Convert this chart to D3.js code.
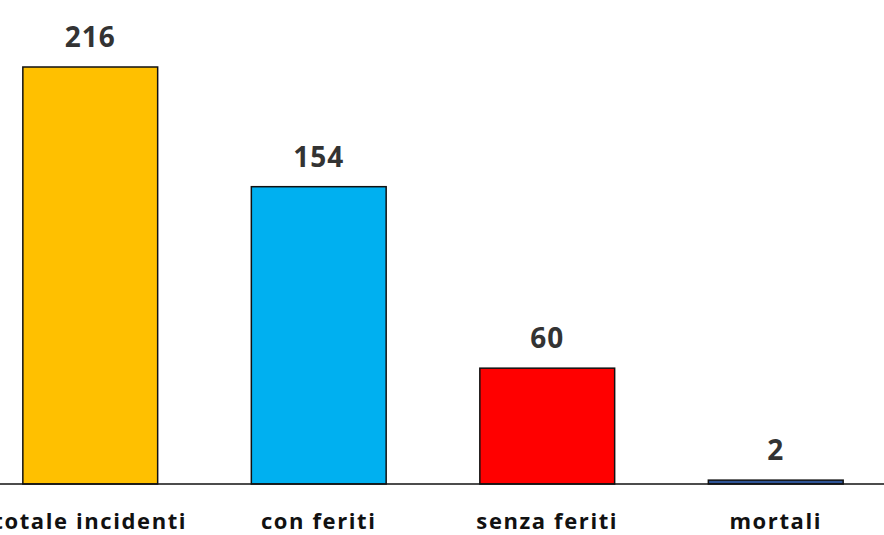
<!DOCTYPE html>
<html>
<head>
<meta charset="utf-8">
<script src="https://cdn.jsdelivr.net/npm/d3@7"></script>
<style>
  body { margin: 0; background: #fff; }
  svg { display: block; font-family: "Open Sans", Lato, sans-serif; }
</style>
</head>
<body>
<svg id="chart"></svg>
<script>
const categories = ['totale incidenti', 'con feriti', 'senza feriti', 'mortali'];
const values = [216, 154, 60, 2];
const colors = ['#FFC000', '#00B0F0', '#FF0000', '#2F5597'];

const width = 884;
const height = 535;
const baseline = 484;

const svg = d3.select('#chart')
  .attr('width', width)
  .attr('height', height);

// chart is cropped on the left in the original, so the band range starts off-screen
const x = d3.scaleBand()
  .domain(categories)
  .range([-24, 890])
  .paddingInner(0.41)
  .paddingOuter(0.205);

const y = d3.scaleLinear()
  .domain([0, 216])
  .range([baseline, 67]);

const data = categories.map((c, i) => ({ cat: c, value: values[i], color: colors[i] }));

svg.selectAll('.bar')
  .data(data)
  .enter()
  .append('rect')
  .attr('class', 'bar')
  .attr('x', d => x(d.cat))
  .attr('y', d => y(d.value))
  .attr('width', x.bandwidth())
  .attr('height', d => y(0) - y(d.value))
  .attr('fill', d => d.color)
  .attr('stroke', '#111')
  .attr('stroke-width', 1.5);

// baseline axis
const axis = svg.append('g')
  .attr('transform', `translate(0,${baseline})`)
  .call(d3.axisBottom(x).tickSize(0).tickPadding(29));
axis.select('.domain')
  .attr('d', `M0,0H${width}`)
  .attr('stroke', '#111')
  .attr('stroke-width', 1.5);
axis.selectAll('text')
  .attr('font-family', '"Open Sans", Lato, sans-serif')
  .attr('font-size', 22)
  .attr('font-weight', 'bold')
  .attr('letter-spacing', 1.6)
  .attr('fill', '#111');

svg.selectAll('.val')
  .data(data)
  .enter()
  .append('text')
  .attr('class', 'val')
  .attr('x', d => x(d.cat) + x.bandwidth() / 2)
  .attr('y', d => y(d.value) - 20)
  .attr('text-anchor', 'middle')
  .attr('font-size', 28)
  .attr('font-weight', 'bold')
  .attr('letter-spacing', 1)
  .attr('fill', '#333')
  .text(d => d.value);
</script>
</body>
</html>
